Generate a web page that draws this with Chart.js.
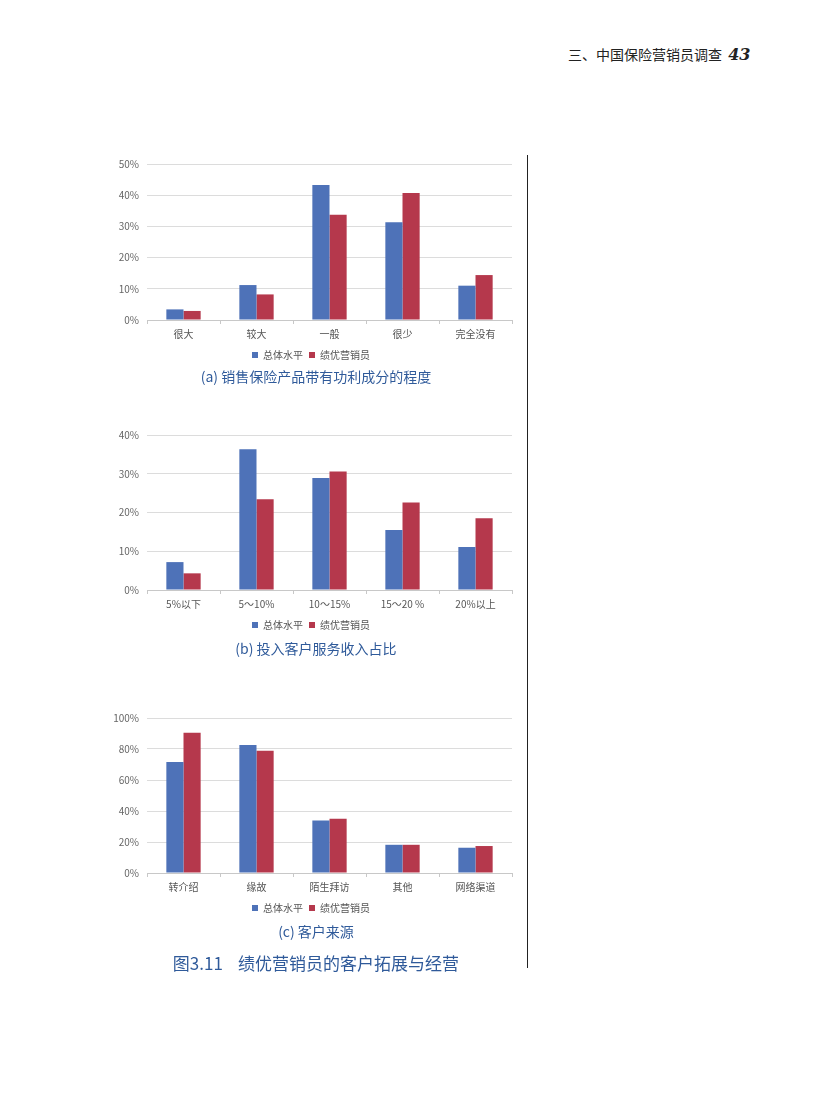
<!DOCTYPE html>
<html>
<head>
<meta charset="utf-8">
<script src="https://cdn.jsdelivr.net/npm/chart.js@4"></script>
<style>
  body { margin: 0; width: 827px; height: 1102px; background: #fff; position: relative; overflow: hidden;
         font-family: "Noto Sans CJK SC", "Noto Sans", sans-serif; }
  .abs { position: absolute; }
  .header { left: 568px; top: 44px; font-size: 14px; color: #222; white-space: nowrap; }
  .header b { font-family: "DejaVu Serif", serif; font-style: italic; font-size: 16px; margin-left: 3px; }
  .caption { left: 116px; width: 400px; text-align: center; font-size: 14px; color: #2f5a9a; }
  .title { left: 116px; width: 400px; text-align: center; font-size: 17px; color: #2f5a9a; }
  .vline { left: 527px; top: 155px; width: 1px; height: 813px; background: #222; }
</style>
</head>
<body>
<div class="abs header">三、中国保险营销员调查 <b>43</b></div>
<div class="abs vline"></div>

<canvas id="chartA" class="abs" width="412" height="220" style="left:110px;top:150px"></canvas>
<div class="abs caption" style="top:366px">(a) 销售保险产品带有功利成分的程度</div>

<canvas id="chartB" class="abs" width="412" height="219" style="left:110px;top:421px"></canvas>
<div class="abs caption" style="top:638px">(b) 投入客户服务收入占比</div>

<canvas id="chartC" class="abs" width="412" height="219" style="left:110px;top:704px"></canvas>
<div class="abs caption" style="top:921px">(c) 客户来源</div>
<div class="abs title" style="top:950px">图3.11&nbsp;&nbsp;&nbsp;&nbsp;绩优营销员的客户拓展与经营</div>

<script>
// series names
const seriesNames = ['总体水平', '绩优营销员'];

// (a) 销售保险产品带有功利成分的程度
const labelsA = ['很大', '较大', '一般', '很少', '完全没有'];
const overallA = [3.4, 11.2, 43.3, 31.3, 11.0];
const topA = [2.9, 8.2, 33.7, 40.7, 14.4];

// (b) 投入客户服务收入占比
const labelsB = ['5%以下', '5～10%', '10～15%', '15～20 %', '20%以上'];
const overallB = [7.2, 36.3, 28.9, 15.5, 11.1];
const topB = [4.3, 23.4, 30.6, 22.6, 18.5];

// (c) 客户来源
const labelsC = ['转介绍', '缘故', '陌生拜访', '其他', '网络渠道'];
const overallC = [71.6, 82.6, 33.9, 18.2, 16.3];
const topC = [90.5, 78.8, 35.0, 18.2, 17.4];

const blue = '#4e72b8';
const red = '#b5384c';
const fontFamily = '"Noto Sans CJK SC", "Noto Sans", sans-serif';

function drawChart(id, labels, overall, top, yMax, yStep) {
    const ctx = document.getElementById(id);
    return new Chart(ctx, {
        type: 'bar',
        data: {
            labels: labels,
            datasets: [
                { label: seriesNames[0], data: overall, backgroundColor: blue },
                { label: seriesNames[1], data: top, backgroundColor: red }
            ]
        },
        options: {
            responsive: false,
            animation: false,
            devicePixelRatio: 1,
            datasets: { bar: { categoryPercentage: 0.47, barPercentage: 1.0 } },
            layout: { padding: { top: 8, right: 10, left: 0, bottom: 0 } },
            plugins: {
                legend: {
                    position: 'bottom',
                    labels: {
                        boxWidth: 6, boxHeight: 6, padding: 6,
                        color: '#555', font: { family: fontFamily, size: 10 }
                    }
                },
                tooltip: { enabled: false }
            },
            scales: {
                y: {
                    min: 0,
                    max: yMax,
                    afterFit: (scale) => { scale.width = 37; },
                    ticks: {
                        stepSize: yStep,
                        padding: 8,
                        color: '#666',
                        font: { family: fontFamily, size: 10 },
                        callback: (v) => v + '%'
                    },
                    grid: { color: '#dcdcdc', drawTicks: false },
                    border: { display: false }
                },
                x: {
                    ticks: { color: '#555', font: { family: fontFamily, size: 10 }, padding: 4 },
                    grid: { drawOnChartArea: false, tickLength: 4, color: '#c8c8c8', offset: true },
                    border: { color: '#c8c8c8' }
                }
            }
        }
    });
}

drawChart('chartA', labelsA, overallA, topA, 50, 10);
drawChart('chartB', labelsB, overallB, topB, 40, 10);
drawChart('chartC', labelsC, overallC, topC, 100, 20);
</script>
</body>
</html>
